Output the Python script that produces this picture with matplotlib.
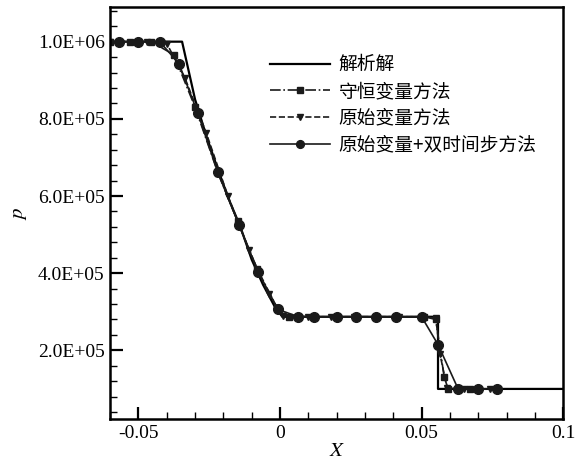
import numpy as np
import matplotlib.pyplot as plt
from matplotlib.ticker import MultipleLocator, FuncFormatter

# 解析解
x_exact = [-0.06, -0.0346, -0.030, -0.026, -0.022, -0.018, -0.014, -0.010,
           -0.006, -0.002, 0.0008, 0.0558, 0.0558, 0.1]
p_exact = [1.0e6, 1.0e6, 8.5e5, 7.55e5, 6.7e5, 5.9e5, 5.2e5, 4.35e5,
           3.7e5, 3.15e5, 2.87e5, 2.87e5, 1.0e5, 1.0e5]

# 守恒变量方法
x_cons = [-0.060, -0.053, -0.0455, -0.0375, -0.030, -0.0219, -0.0150, -0.0080,
          -0.0010, 0.0030, 0.0120, 0.0200, 0.0270, 0.0340, 0.0410, 0.0510,
          0.0550, 0.0580, 0.0594, 0.0670, 0.0770]
p_cons = [1.0e6, 1.0e6, 1.0e6, 9.66e5, 8.3e5, 6.59e5, 5.35e5, 4.1e5,
          3.1e5, 2.87e5, 2.87e5, 2.87e5, 2.87e5, 2.87e5, 2.87e5, 2.87e5,
          2.8e5, 1.3e5, 1.0e5, 1.0e5, 1.0e5]

# 原始变量方法
x_prim = [-0.060, -0.047, -0.040, -0.0336, -0.026, -0.0184, -0.0110, -0.0040,
          0.0010, 0.0100, 0.0180, 0.0260, 0.0340, 0.0420, 0.0500, 0.0550,
          0.0565, 0.0590, 0.0650, 0.0740]
p_prim = [1.0e6, 1.0e6, 9.95e5, 9.06e5, 7.62e5, 6.0e5, 4.6e5, 3.45e5,
          2.9e5, 2.87e5, 2.87e5, 2.87e5, 2.87e5, 2.87e5, 2.87e5, 2.85e5,
          1.9e5, 1.02e5, 1.0e5, 1.0e5]

# 原始变量+双时间步方法
x_dual = [-0.057, -0.050, -0.0425, -0.0357, -0.029, -0.0220, -0.0145, -0.0078,
          -0.0007, 0.0065, 0.0120, 0.0200, 0.0270, 0.0340, 0.0410, 0.0500,
          0.0558, 0.0629, 0.0700, 0.0767]
p_dual = [1.0e6, 1.0e6, 1.0e6, 9.43e5, 8.14e5, 6.62e5, 5.25e5, 4.04e5,
          3.06e5, 2.87e5, 2.87e5, 2.87e5, 2.87e5, 2.87e5, 2.87e5, 2.87e5,
          2.15e5, 1.0e5, 1.0e5, 1.0e5]

labels = ['解析解', '守恒变量方法', '原始变量方法', '原始变量+双时间步方法']

plt.rcParams['font.family'] = ['Liberation Serif', 'Noto Sans CJK SC']
plt.rcParams['mathtext.fontset'] = 'stix'

fig = plt.figure(figsize=(5.86, 4.63), dpi=100)
ax = fig.add_axes([0.188, 0.095, 0.773, 0.89])

c = '#1a1a1a'
ax.plot(x_exact, p_exact, color='black', lw=1.6, label=labels[0])
ax.plot(x_cons, p_cons, color=c, lw=1.2, ls='-.', marker='s', ms=5, label=labels[1])
ax.plot(x_prim, p_prim, color=c, lw=1.2, ls='--', marker='v', ms=5, label=labels[2])
ax.plot(x_dual, p_dual, color=c, lw=1.2, ls='-', marker='o', ms=7, label=labels[3])

ax.set_xlim(-0.06, 0.1)
ax.set_ylim(2.2e4, 1.09e6)
ax.xaxis.set_major_locator(MultipleLocator(0.05))
ax.xaxis.set_minor_locator(MultipleLocator(0.01))
ax.yaxis.set_major_locator(MultipleLocator(2e5))
ax.yaxis.set_minor_locator(MultipleLocator(4e4))
ax.xaxis.set_major_formatter(FuncFormatter(lambda v, pos: '0' if abs(v) < 1e-9 else f'{v:g}'))
ax.yaxis.set_major_formatter(FuncFormatter(lambda v, pos: f'{v:.1E}'))

ax.tick_params(which='both', direction='in', top=False, right=False, labelsize=14)
ax.tick_params(which='major', length=9, width=1.6, pad=4)
ax.tick_params(which='minor', length=5, width=1.0)
for s in ax.spines.values():
    s.set_linewidth(1.8)

ax.set_xlabel('$X$', fontsize=15, labelpad=0)
ax.set_ylabel('$p$', fontsize=15, labelpad=6)

ax.legend(loc='upper left', bbox_to_anchor=(0.353, 0.885), frameon=False,
          borderaxespad=0, borderpad=0,
          prop={'family': ['Noto Sans CJK SC'], 'size': 13.5},
          handlelength=3.2, handletextpad=0.45, labelspacing=0.3, markerscale=0.8)

fig.savefig('out.png', dpi=100)
